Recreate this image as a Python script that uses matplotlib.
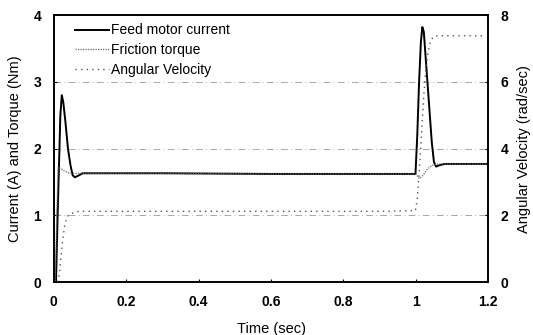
import matplotlib
matplotlib.use("Agg")
import matplotlib.pyplot as plt

plt.rcParams['font.family'] = ['Liberation Sans', 'DejaVu Sans']

# feed motor current (A), left axis
t_current = [0, 0.006, 0.010, 0.014, 0.018, 0.022, 0.026, 0.032, 0.039, 0.046, 0.052,
             0.058, 0.066, 0.080, 0.3, 0.6, 0.9, 0.999, 1.004, 1.009, 1.014,
             1.018, 1.022, 1.028, 1.036, 1.044, 1.050, 1.056, 1.065, 1.08, 1.2]
current = [0, 0, 0.9, 1.7, 2.5, 2.8, 2.7, 2.4, 2.0, 1.75, 1.6,
           1.57, 1.59, 1.63, 1.63, 1.62, 1.62, 1.62, 2.2, 3.0, 3.6,
           3.82, 3.75, 3.3, 2.7, 2.1, 1.8, 1.73, 1.75, 1.77, 1.77]

# friction torque (Nm), left axis
t_friction = [0, 0.004, 0.008, 0.012, 0.020, 0.030, 0.045, 0.06, 0.3, 0.6, 0.9,
              1.0, 1.01, 1.02, 1.03, 1.04, 1.05, 1.07, 1.2]
friction = [0, 0, 1.0, 1.72, 1.70, 1.66, 1.63, 1.63, 1.63, 1.62, 1.62,
            1.62, 1.55, 1.6, 1.68, 1.73, 1.76, 1.77, 1.77]

# angular velocity (rad/sec), right axis
t_velocity = [0.012, 0.016, 0.020, 0.025, 0.030, 0.036, 0.042, 0.050, 0.060, 0.072,
              0.3, 0.6, 0.9, 0.999, 1.004, 1.010, 1.016, 1.022, 1.028, 1.034,
              1.040, 1.048, 1.06, 1.186]
velocity = [0, 0.3, 0.8, 1.3, 1.7, 1.95, 2.02, 2.06, 2.1, 2.12,
            2.12, 2.12, 2.12, 2.14, 2.5, 3.4, 4.5, 5.6, 6.4, 6.9,
            7.2, 7.35, 7.38, 7.38]

x_ticks = [0, 0.2, 0.4, 0.6, 0.8, 1, 1.2]
x_tick_labels = ["0", "0.2", "0.4", "0.6", "0.8", "1", "1.2"]

fig = plt.figure(figsize=(5.33, 3.35), dpi=100)
ax = fig.add_axes([0.101, 0.158, 0.815, 0.797])
ax2 = ax.twinx()

for y in [1, 2, 3]:
    ax.axhline(y, color="#999999", lw=0.6, ls=(0, (8, 4, 1, 4)), zorder=0)

l1, = ax.plot(t_current, current, color="black", lw=1.4, label="Feed motor current")
l2, = ax.plot(t_friction, friction, color="#666666", lw=0.9, ls=(0, (1, 1)),
              label="Friction torque")
l3, = ax2.plot(t_velocity, velocity, color="#555555", lw=1.0, ls=(0, (1, 3)),
               label="Angular Velocity")

ax.set_xlim(0, 1.2)
ax.set_ylim(0, 4)
ax2.set_ylim(0, 8)
ax.set_xticks(x_ticks)
ax.set_xticklabels(x_tick_labels)
ax.set_yticks([0, 1, 2, 3, 4])
ax2.set_yticks([0, 2, 4, 6, 8])

for a in (ax, ax2):
    a.tick_params(direction="in", length=2, width=0.8, labelsize=10, pad=9)
    for lab in a.get_xticklabels() + a.get_yticklabels():
        lab.set_fontweight("bold")
    for sp in a.spines.values():
        sp.set_linewidth(1.2)

ax.set_xlabel("Time (sec)", fontsize=10.5, labelpad=10)
ax.set_ylabel("Current (A) and Torque (Nm)", fontsize=10.5, labelpad=8)
ax2.set_ylabel("Angular Velocity (rad/sec)", fontsize=10.5, labelpad=6)

ax.legend(handles=[l1, l2, l3], loc="upper left", frameon=False, fontsize=10,
          handlelength=2.4, handletextpad=0.2, labelspacing=0.4,
          borderaxespad=0.2, bbox_to_anchor=(0.03, 1.0))

fig.savefig("out.png", dpi=100)
